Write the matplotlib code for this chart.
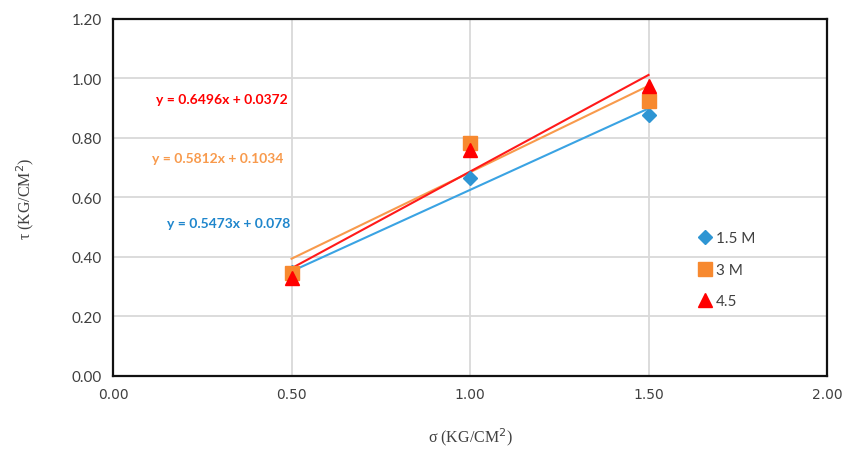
import matplotlib
matplotlib.use("Agg")
import matplotlib.pyplot as plt
import numpy as np

# Data
sigma = [0.5, 1.0, 1.5]
series_names = ["1.5 M", "3 M", "4.5"]
tau_15 = [0.350, 0.666, 0.878]
tau_3 = [0.345, 0.784, 0.923]
tau_45 = [0.328, 0.759, 0.975]
slopes = [0.5473, 0.5812, 0.6496]
intercepts = [0.078, 0.1034, 0.0372]
eq_labels = ["y = 0.5473x + 0.078", "y = 0.5812x + 0.1034", "y = 0.6496x + 0.0372"]
x_ticks = [0.0, 0.5, 1.0, 1.5, 2.0]
y_ticks = [0.0, 0.2, 0.4, 0.6, 0.8, 1.0, 1.2]

marker_colors = ["#2E95D3", "#F7892F", "#FF0000"]
line_colors = ["#3AA3E3", "#F89A4C", "#FF1A1A"]
text_colors = ["#1F86CC", "#F89A4C", "#FF0000"]
markers = ["D", "s", "^"]
msizes = [7.5, 10, 9.5]

fig = plt.figure(figsize=(8.5, 4.52), dpi=100)
ax = fig.add_axes([0.133, 0.166, 0.840, 0.790])

ax.set_xlim(0, 2.0)
ax.set_ylim(0, 1.2)
ax.set_xticks(x_ticks)
ax.set_yticks(y_ticks)
ax.set_xticklabels([f"{v:.2f}" for v in x_ticks], fontfamily="DejaVu Sans",
                   fontsize=10, color="#404040")
ax.set_yticklabels([f"{v:.2f}" for v in y_ticks], fontfamily="Lato",
                   fontsize=11, color="#404040")
ax.tick_params(length=0, pad=8)
ax.grid(True, color="#D9D9D9", linewidth=1.3)
ax.set_axisbelow(True)
for s in ax.spines.values():
    s.set_color("#111111")
    s.set_linewidth(1.6)

all_tau = [tau_15, tau_3, tau_45]
xs = np.array([0.5, 1.5])
for i in range(3):
    ax.plot(xs, slopes[i] * xs + intercepts[i], color=line_colors[i], lw=1.5, zorder=2)
for i in range(3):
    ax.plot(sigma, all_tau[i], linestyle="none", marker=markers[i], ms=msizes[i],
            color=marker_colors[i], label=series_names[i], zorder=3 + i)

eq_pos = [(0.325, 0.514), (0.293, 0.733), (0.305, 0.931)]
for i in range(3):
    ax.text(eq_pos[i][0], eq_pos[i][1], eq_labels[i], color=text_colors[i],
            fontsize=10, fontweight="bold", fontfamily="Lato", ha="center", va="center")

leg = ax.legend(loc="center left", bbox_to_anchor=(0.808, 0.297), frameon=False,
                prop={"family": "Lato", "size": 11}, handletextpad=0.1,
                labelspacing=1.15, handlelength=1.2, borderaxespad=0)
for t in leg.get_texts():
    t.set_color("#404040")

ax.set_xlabel("σ (KG/CM$^2$)", fontfamily="Liberation Serif", fontsize=11.5,
              color="#404040", labelpad=17)
ax.set_ylabel("τ (KG/CM$^2$)", fontfamily="Liberation Serif", fontsize=11.5,
              color="#404040", labelpad=26)

fig.savefig("out.png", dpi=100)
